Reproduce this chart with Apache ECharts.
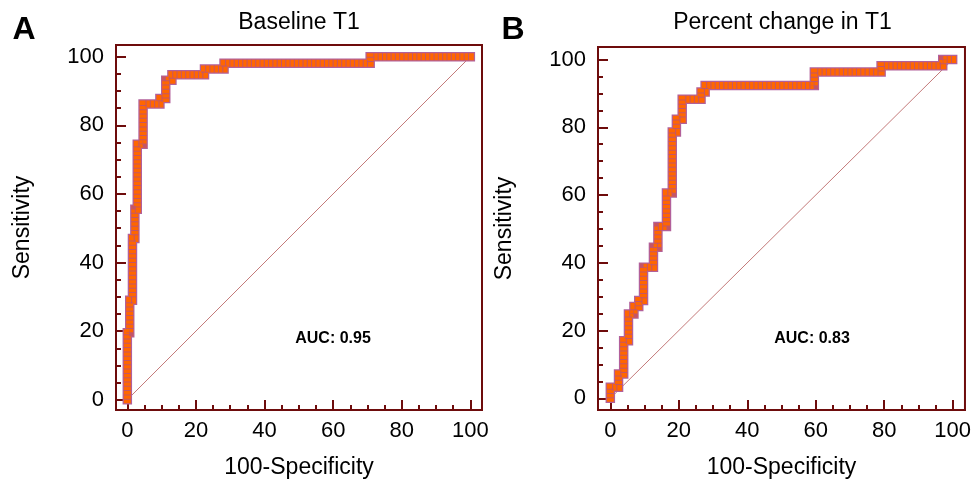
<!DOCTYPE html>
<html>
<head>
<meta charset="utf-8">
<script src="https://cdn.jsdelivr.net/npm/echarts@6/dist/echarts.min.js"></script>
<style>html,body{margin:0;padding:0;background:#fff}#c{width:974px;height:484px}</style>
</head>
<body>
<div id="c"></div>
<script>
// ---- data ----
const titles = ['Baseline T1', 'Percent change in T1'];
const panelLetters = ['A', 'B'];
const aucLabels = ['AUC: 0.95', 'AUC: 0.83'];
const xTickValues = [0, 20, 40, 60, 80, 100];
const yTickValues = [0, 20, 40, 60, 80, 100];
const minorTickValues = [0,5,10,15,20,25,30,35,40,45,50,55,60,65,70,75,80,85,90,95,100];
const xName = '100-Specificity';
const yName = 'Sensitivity';

// ROC points (100-Specificity, Sensitivity), Panel A
const fprA = [0, 0, 0.7, 1.5, 2.2, 2.9, 4.6, 9.5, 11.2, 13.0, 22.5, 28.2, 70.8, 100];
const tprA = [0, 19.5, 29, 47, 55.5, 74.5, 86.2, 87.8, 93.1, 94.7, 96.4, 98.1, 100, 100];
// Panel B
const fprB = [0, 0, 2.4, 3.9, 5.3, 6.9, 8.3, 9.7, 12.6, 13.9, 16.4, 18.1, 19.3, 21.0, 26.5, 27.7, 59.6, 79.1, 97.1, 100];
const tprB = [0, 3.3, 7.2, 17.0, 24.9, 27.1, 28.9, 38.7, 44.6, 50.7, 60.6, 78.6, 82.4, 88.3, 90.4, 92.3, 96.3, 98.2, 100, 100];
const diagX = [0, 100];
const diagY = [0, 100];

// ---- styling ----
const MAROON = '#6e0c0c';
const FONT = 'Liberation Sans, Arial, sans-serif';
const grids = [
  {left: 116, top: 45, width: 366, height: 367, xr: [-3.3, 103.4], yr: [-3.0, 103.4]},
  {left: 598, top: 47, width: 369, height: 364, xr: [-3.6, 103.6], yr: [-3.45, 103.7]}
];

const chart = echarts.init(document.getElementById('c'), null, {renderer: 'canvas'});
const option = {
  animation: false,
  backgroundColor: '#fff',
  grid: [], xAxis: [], yAxis: [], series: [], graphic: []
};

grids.forEach((g, i) => {
  option.grid.push({left: g.left, top: g.top, width: g.width, height: g.height,
    show: true, borderColor: MAROON, borderWidth: 2, backgroundColor: '#fff', containLabel: false});
  const base = i * 2;
  option.xAxis.push({
    type: 'value', gridIndex: i, min: g.xr[0], max: g.xr[1], position: 'bottom',
    axisLine: {show: true, onZero: false, lineStyle: {color: MAROON, width: 2}},
    axisTick: {show: true, inside: true, length: 10, customValues: xTickValues, lineStyle: {color: MAROON, width: 2}},
    axisLabel: {show: true, customValues: xTickValues, margin: 10, color: '#000', fontSize: 22, fontFamily: FONT},
    splitLine: {show: false},
    name: xName, nameLocation: 'middle', nameGap: 46,
    nameTextStyle: {fontSize: 23, color: '#000', fontFamily: FONT}
  });
  option.xAxis.push({
    type: 'value', gridIndex: i, min: g.xr[0], max: g.xr[1], position: 'bottom',
    axisLine: {show: false, onZero: false},
    axisTick: {show: true, inside: true, length: 5, customValues: minorTickValues, lineStyle: {color: MAROON, width: 2}},
    axisLabel: {show: false}, splitLine: {show: false}
  });
  option.yAxis.push({
    type: 'value', gridIndex: i, min: g.yr[0], max: g.yr[1], position: 'left',
    axisLine: {show: true, onZero: false, lineStyle: {color: MAROON, width: 2}},
    axisTick: {show: true, inside: true, length: 10, customValues: yTickValues, lineStyle: {color: MAROON, width: 2}},
    axisLabel: {show: true, customValues: yTickValues, margin: 12, color: '#000', fontSize: 22, fontFamily: FONT},
    splitLine: {show: false},
    name: yName, nameLocation: 'middle', nameGap: 82,
    nameTextStyle: {fontSize: 23, color: '#000', fontFamily: FONT}
  });
  option.yAxis.push({
    type: 'value', gridIndex: i, min: g.yr[0], max: g.yr[1], position: 'left',
    axisLine: {show: false, onZero: false},
    axisTick: {show: true, inside: true, length: 5, customValues: minorTickValues, lineStyle: {color: MAROON, width: 2}},
    axisLabel: {show: false}, splitLine: {show: false}
  });

  const fpr = i === 0 ? fprA : fprB;
  const tpr = i === 0 ? tprA : tprB;
  const pts = fpr.map((x, k) => [x, tpr[k]]);
  const diag = diagX.map((x, k) => [x, diagY[k]]);

  option.series.push({
    type: 'line', xAxisIndex: base, yAxisIndex: base, data: diag, showSymbol: false, silent: true,
    lineStyle: {color: '#c47a7a', width: 1}, z: 1
  });
  option.series.push({
    type: 'line', xAxisIndex: base, yAxisIndex: base, data: pts, step: 'end', showSymbol: false, silent: true,
    lineStyle: {color: '#b2609a', width: 9.5, cap: 'square', join: 'miter'}, z: 2
  });
  option.series.push({
    type: 'line', xAxisIndex: base, yAxisIndex: base, data: pts, step: 'end', showSymbol: false, silent: true,
    lineStyle: {color: '#ff6600', width: 7, cap: 'square', join: 'miter'}, z: 3
  });
  option.series.push({
    type: 'line', xAxisIndex: base, yAxisIndex: base, data: pts, step: 'end', showSymbol: false, silent: true,
    lineStyle: {color: '#b0508a', width: 7, type: [1, 3.3], cap: 'butt', join: 'miter', opacity: 0.75}, z: 4
  });

  const cx = g.left + g.width / 2;
  option.graphic.push({type: 'text', x: cx, y: 23, z: 10,
    style: {text: titles[i], fill: '#000', font: '23px ' + FONT, textAlign: 'center', textVerticalAlign: 'middle'}});
  option.graphic.push({type: 'text', x: i === 0 ? 24 : 513, y: 30, z: 10,
    style: {text: panelLetters[i], fill: '#000', font: 'bold 32px ' + FONT, textAlign: 'center', textVerticalAlign: 'middle'}});
  option.graphic.push({type: 'text', x: i === 0 ? 333 : 812, y: 339, z: 10,
    style: {text: aucLabels[i], fill: '#000', font: 'bold 16px ' + FONT, textAlign: 'center', textVerticalAlign: 'middle'}});
});

chart.setOption(option);
</script>
</body>
</html>
